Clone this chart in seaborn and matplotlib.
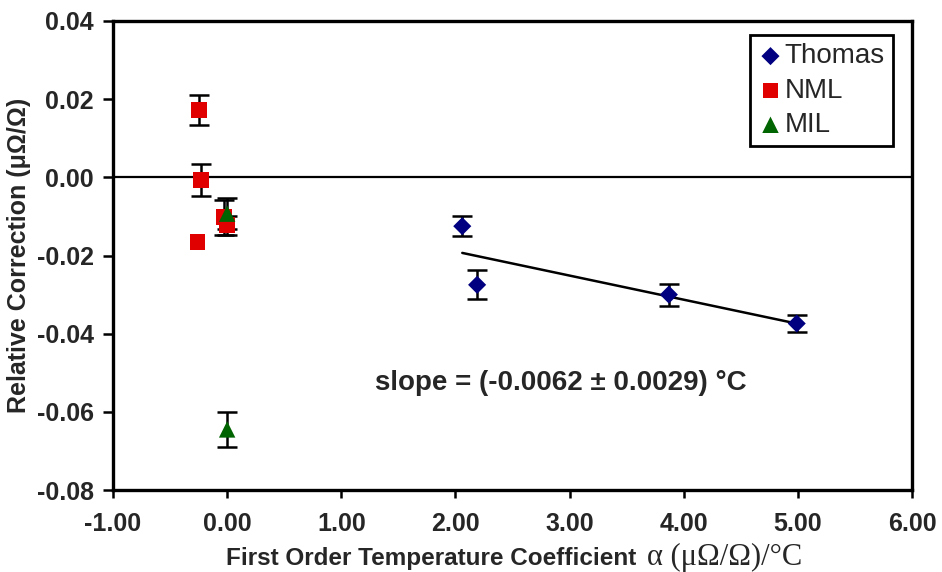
import numpy as np
import pandas as pd
import matplotlib
matplotlib.use("Agg")
import matplotlib.pyplot as plt
import seaborn as sns

# values
thomas_x = [2.06, 2.19, 3.87, 4.99]
thomas_y = [-0.0125, -0.0275, -0.0300, -0.0374]
thomas_err = [0.0025, 0.0037, 0.0028, 0.0023]

nml_x = [-0.245, -0.23, -0.26, -0.03, 0.0]
nml_y = [0.0172, -0.0006, -0.0166, -0.0102, -0.0123]
nml_err = [0.0038, 0.0041, 0.0, 0.0045, 0.0025]

mil_x = [0.0, 0.0]
mil_y = [-0.0093, -0.0645]
mil_err = [0.0040, 0.0044]

x_ticks = [-1, 0, 1, 2, 3, 4, 5, 6]
y_ticks = [-0.08, -0.06, -0.04, -0.02, 0.0, 0.02, 0.04]

sns.set_style("ticks")
plt.rcParams["font.family"] = ["Liberation Sans", "DejaVu Sans"]

fig = plt.figure(figsize=(9.42, 5.72), dpi=100)
ax = fig.add_axes([113 / 942, 1 - 490 / 572, 799 / 942, 469 / 572])

ax.axhline(0, color="black", lw=1.6, zorder=1)

groups = [
    ("Thomas", thomas_x, thomas_y, thomas_err, "D", "#000080", 85),
    ("NML", nml_x, nml_y, nml_err, "s", "#e00000", 130),
    ("MIL", mil_x, mil_y, mil_err, "^", "#006400", 140),
]
for name, gx, gy, gerr, mk, col, size in groups:
    errs = np.array(gerr)
    mask = errs > 0
    ax.errorbar(np.array(gx)[mask], np.array(gy)[mask], yerr=errs[mask],
                fmt="none", ecolor="black", elinewidth=1.8, capsize=7,
                capthick=1.8, zorder=2)
    sns.scatterplot(x=gx, y=gy, marker=mk, color=col, s=size,
                    edgecolor="none", label=name, ax=ax, zorder=3)

# linear fit through the Thomas points
fit = pd.DataFrame({"x": thomas_x, "y": thomas_y})
sns.regplot(data=fit, x="x", y="y", scatter=False, ci=None, truncate=True,
            line_kws={"color": "black", "lw": 1.8, "zorder": 2}, ax=ax)

ax.set_xlim(-1, 6)
ax.set_ylim(-0.08, 0.04)
ax.set_xticks(x_ticks)
ax.set_yticks(y_ticks)
ax.set_xticklabels([f"{v:.2f}" for v in x_ticks], fontsize=18, fontweight="bold")
ax.set_yticklabels([f"{v:.2f}" for v in y_ticks], fontsize=18, fontweight="bold")
ax.tick_params(axis="x", direction="out", length=6, width=1.8, color="black", pad=10)
ax.tick_params(axis="y", direction="out", length=7, width=1.8, color="black", pad=7)

for sp in ax.spines.values():
    sp.set_visible(True)
    sp.set_linewidth(2.4)
    sp.set_color("black")

ax.set_xlabel("")
ax.set_ylabel("Relative Correction (μΩ/Ω)", fontsize=18, fontweight="bold")
ax.yaxis.set_label_coords(-0.103, 0.5)

fig.text(643 / 942, 1 - 565 / 572, "First Order Temperature Coefficient ",
         ha="right", va="baseline", fontsize=17.5, fontweight="bold")
fig.text(647 / 942, 1 - 565 / 572, "α (μΩ/Ω)/°C", ha="left", va="baseline",
         fontsize=22, family=["Liberation Serif", "DejaVu Serif"])

ax.text(2.92, -0.0527, "slope = (-0.0062 ± 0.0029) °C", ha="center",
        va="center", fontsize=20, fontweight="bold")

leg = ax.legend(loc="upper right", bbox_to_anchor=(0.976, 0.970),
                borderaxespad=0, fontsize=20, frameon=True, fancybox=False,
                framealpha=1, edgecolor="black", handletextpad=0.05,
                handlelength=0.9, labelspacing=0.3, borderpad=0.3)
leg.get_frame().set_linewidth(2)

fig.savefig("out.png", dpi=100)
